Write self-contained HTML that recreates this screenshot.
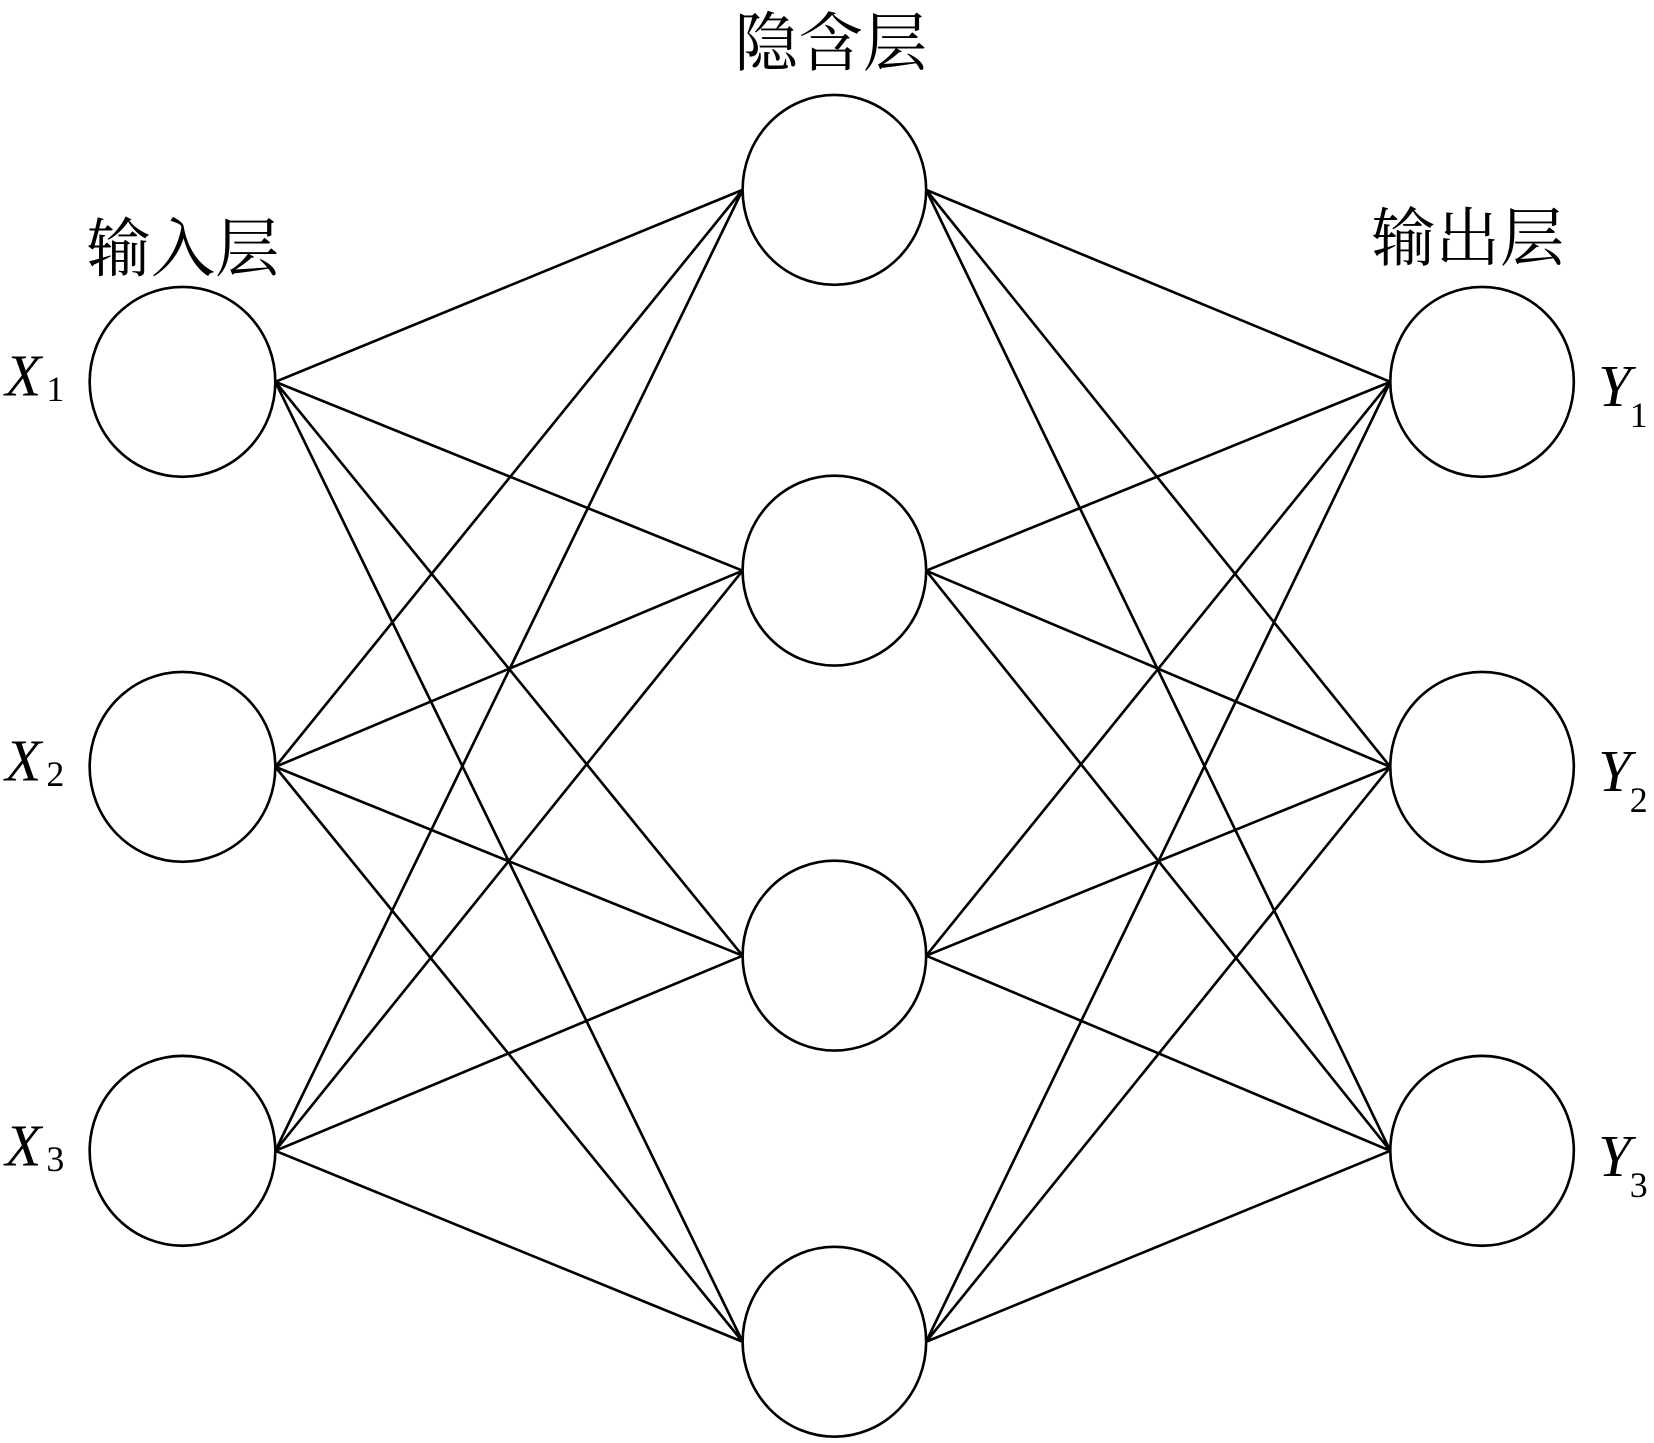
<!DOCTYPE html>
<html><head><meta charset="utf-8"><style>html,body{margin:0;padding:0;background:#fff}svg{display:block}</style></head><body>
<svg width="1654" height="1443" viewBox="0 0 1568 1368" preserveAspectRatio="none" xmlns="http://www.w3.org/2000/svg">
<g stroke="#000" stroke-width="2.5" fill="none">
<ellipse cx="173" cy="362" rx="88" ry="90"/>
<ellipse cx="173" cy="727" rx="88" ry="90"/>
<ellipse cx="173" cy="1091" rx="88" ry="90"/>
<ellipse cx="791" cy="180" rx="87" ry="90"/>
<ellipse cx="791" cy="541" rx="87" ry="90"/>
<ellipse cx="791" cy="906" rx="87" ry="90"/>
<ellipse cx="791" cy="1272" rx="87" ry="90"/>
<ellipse cx="1405" cy="362" rx="87" ry="90"/>
<ellipse cx="1405" cy="727" rx="87" ry="90"/>
<ellipse cx="1405" cy="1091" rx="87" ry="90"/>
<path d="M261 362L704 180M261 362L704 541M261 362L704 906M261 362L704 1272
M261 727L704 180M261 727L704 541M261 727L704 906M261 727L704 1272
M261 1091L704 180M261 1091L704 541M261 1091L704 906M261 1091L704 1272
M878 180L1318 362M878 180L1318 727M878 180L1318 1091
M878 541L1318 362M878 541L1318 727M878 541L1318 1091
M878 906L1318 362M878 906L1318 727M878 906L1318 1091
M878 1272L1318 362M878 1272L1318 727M878 1272L1318 1091"/>
</g>
<g font-family="'Noto Serif CJK SC','Noto Sans CJK SC',serif" font-size="61" fill="#000">
<text x="696" y="62">隐含层</text>
<text x="82" y="257">输入层</text>
<text x="1300" y="247">输出层</text>
</g>
<g font-family="'Liberation Serif',serif" fill="#000">
<text x="5" y="375" font-size="56" font-style="italic">X</text><text x="44" y="380" font-size="34">1</text>
<text x="5" y="740" font-size="56" font-style="italic">X</text><text x="44" y="745" font-size="34">2</text>
<text x="5" y="1105" font-size="56" font-style="italic">X</text><text x="44" y="1110" font-size="34">3</text>
<text x="1515" y="385" font-size="56" font-style="italic">Y</text><text x="1545" y="405" font-size="34">1</text>
<text x="1515" y="750" font-size="56" font-style="italic">Y</text><text x="1545" y="770" font-size="34">2</text>
<text x="1515" y="1115" font-size="56" font-style="italic">Y</text><text x="1545" y="1135" font-size="34">3</text>
</g>
</svg>
</body></html>
